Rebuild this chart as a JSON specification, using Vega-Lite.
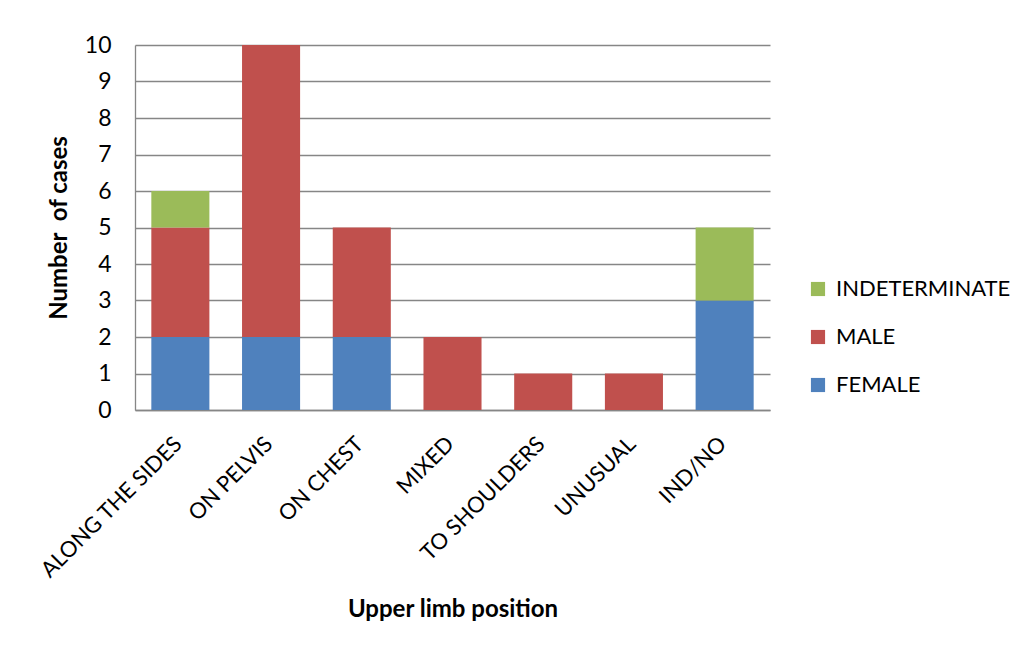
{
  "$schema": "https://vega.github.io/schema/vega-lite/v6.json",
  "width": 635,
  "height": 365,
  "autosize": {"type": "none"},
  "padding": {"left": 135, "top": 45, "right": 262, "bottom": 240},
  "background": "white",
  "config": {
    "font": "Lato",
    "view": {"stroke": null},
    "axis": {"labelFont": "Lato", "titleFont": "Lato"}
  },
  "data": {
    "values": [
      {"position": "ALONG THE SIDES", "sex": "FEMALE", "k": 1, "cases": 2},
      {"position": "ALONG THE SIDES", "sex": "MALE", "k": 2, "cases": 3},
      {"position": "ALONG THE SIDES", "sex": "INDETERMINATE", "k": 3, "cases": 1},
      {"position": "ON PELVIS", "sex": "FEMALE", "k": 1, "cases": 2},
      {"position": "ON PELVIS", "sex": "MALE", "k": 2, "cases": 8},
      {"position": "ON CHEST", "sex": "FEMALE", "k": 1, "cases": 2},
      {"position": "ON CHEST", "sex": "MALE", "k": 2, "cases": 3},
      {"position": "MIXED", "sex": "MALE", "k": 2, "cases": 2},
      {"position": "TO SHOULDERS", "sex": "MALE", "k": 2, "cases": 1},
      {"position": "UNUSUAL", "sex": "MALE", "k": 2, "cases": 1},
      {"position": "IND/NO", "sex": "FEMALE", "k": 1, "cases": 3},
      {"position": "IND/NO", "sex": "INDETERMINATE", "k": 3, "cases": 2}
    ]
  },
  "mark": {"type": "bar"},
  "encoding": {
    "x": {
      "field": "position",
      "type": "nominal",
      "sort": ["ALONG THE SIDES", "ON PELVIS", "ON CHEST", "MIXED", "TO SHOULDERS", "UNUSUAL", "IND/NO"],
      "scale": {"paddingInner": 0.36, "paddingOuter": 0.18},
      "axis": {
        "title": "Upper limb position",
        "titleFontSize": 24,
        "titleFontWeight": "bold",
        "titleColor": "black",
        "titlePadding": 16,
        "labelAngle": -45,
        "labelAlign": "right",
        "labelBaseline": "middle",
        "labelFontSize": 22,
        "labelColor": "black",
        "labelPadding": 30,
        "labelOffset": -2,
        "labelLimit": 400,
        "labelOverlap": false,
        "ticks": false,
        "domainColor": "#868686",
        "domainWidth": 1.3
      }
    },
    "y": {
      "field": "cases",
      "type": "quantitative",
      "aggregate": "sum",
      "stack": "zero",
      "scale": {"domain": [0, 10], "nice": false},
      "axis": {
        "title": "Number \u00a0of cases",
        "titleFontSize": 24,
        "titleFontWeight": "bold",
        "titleColor": "black",
        "titlePadding": 13,
        "values": [0,1,2,3,4,5,6,7,8,9,10],
        "labelOverlap": false,
        "labelFontSize": 23,
        "labelColor": "black",
        "labelPadding": 24,
        "ticks": false,
        "grid": true,
        "gridColor": "#868686",
        "gridWidth": 1.3,
        "domainColor": "#868686",
        "domainWidth": 1.3
      }
    },
    "color": {
      "field": "sex",
      "type": "nominal",
      "scale": {
        "domain": ["INDETERMINATE", "MALE", "FEMALE"],
        "range": ["#9BBB59", "#C0504D", "#4F81BD"]
      },
      "legend": {
        "title": null,
        "orient": "none",
        "legendX": 672,
        "legendY": 233,
        "symbolType": "square",
        "symbolSize": 200,
        "symbolStrokeWidth": 0,
        "symbolOpacity": 1,
        "labelFontSize": 22,
        "labelColor": "black",
        "labelOffset": 7,
        "labelLimit": 400,
        "rowPadding": 26
      }
    },
    "order": {"field": "k", "type": "quantitative"}
  }
}
